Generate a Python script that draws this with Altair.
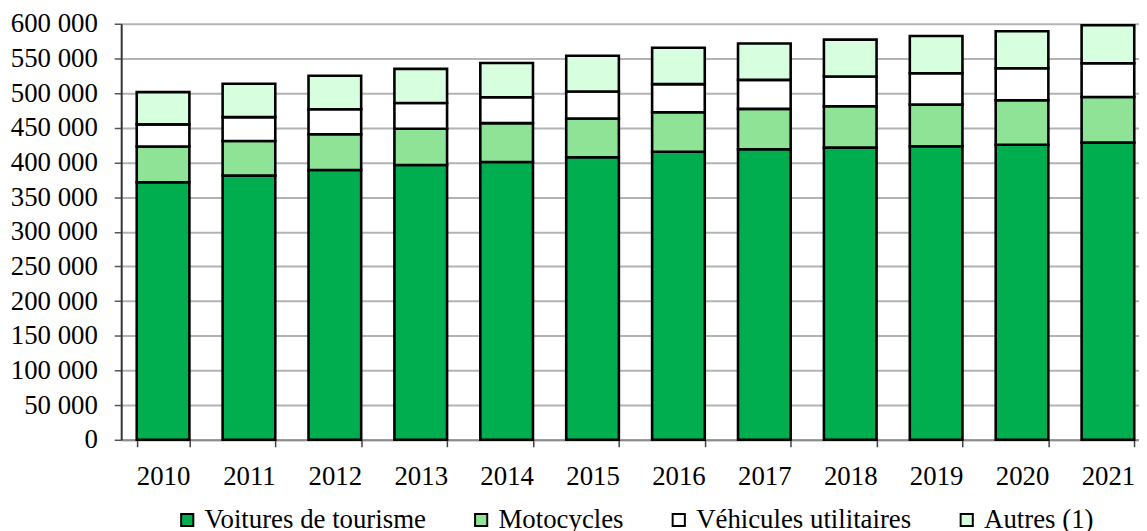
import altair as alt
import pandas as pd

years = ["2010", "2011", "2012", "2013", "2014", "2015", "2016", "2017", "2018", "2019", "2020", "2021"]
voitures = [371400, 381000, 389100, 396300, 400700, 407500, 415300, 419100, 421400, 423400, 425500, 428600]
motocycles = [51500, 50000, 51500, 52300, 56000, 55900, 57100, 58100, 59600, 60000, 64100, 65700]
utilitaires = [32000, 34300, 36100, 37100, 37200, 39000, 40500, 41900, 42900, 45200, 46100, 48600]
autres = [46500, 48100, 48200, 49200, 49500, 51500, 52400, 52300, 53200, 53800, 53400, 54800]

series_names = ["Voitures de tourisme", "Motocycles", "Véhicules utilitaires", "Autres (1)"]
series_colors = ["#00AD4F", "#8EE396", "#FFFFFF", "#D8FEE0"]
series_values = [voitures, motocycles, utilitaires, autres]
y_ticks = list(range(0, 600001, 50000))

rows = []
for si, (name, vals) in enumerate(zip(series_names, series_values)):
    for yr, v in zip(years, vals):
        rows.append({"year": yr, "series": name, "value": v, "order": si})
df = pd.DataFrame(rows)

FONT = "Liberation Serif"
FS = 27

chart = alt.Chart(df).mark_bar(stroke="black", strokeWidth=2.6).encode(
    x=alt.X("year:N", sort=years, title=None,
            scale=alt.Scale(paddingInner=0.387, paddingOuter=0.118, align=0.766),
            axis=alt.Axis(labelAngle=0, tickBand="extent", grid=False,
                          domainColor="#8C8C8C", domainWidth=2,
                          tickColor="#404040", tickWidth=1.5, tickSize=7,
                          labelPadding=17, labelFont=FONT, labelFontSize=FS,
                          labelColor="black")),
    y=alt.Y("value:Q", stack="zero", title=None,
            scale=alt.Scale(domain=[0, 600000], nice=False),
            axis=alt.Axis(values=y_ticks,
                          labelExpr="replace(format(datum.value, ','), ',', ' ')",
                          grid=True, gridColor="#B3B3B3", gridWidth=2,
                          domainColor="#333333", domainWidth=2,
                          tickColor="#555555", tickWidth=1.5, tickSize=7,
                          labelPadding=17, labelFont=FONT, labelFontSize=FS,
                          labelColor="black")),
    color=alt.Color("series:N", sort=series_names,
                    scale=alt.Scale(domain=series_names, range=series_colors),
                    legend=alt.Legend(title=None, orient="none", direction="horizontal",
                                      columns=4, legendX=53, legendY=486,
                                      symbolType="square", symbolSize=150,
                                      symbolStrokeColor="black", symbolStrokeWidth=2,
                                      labelFont=FONT, labelFontSize=FS, labelColor="black",
                                      labelOffset=4, columnPadding=42, padding=0,
                                      labelLimit=400)),
    order=alt.Order("order:Q", sort="ascending"),
).properties(
    width=1025, height=419,
    autosize=alt.AutoSizeParams(type="none"),
    padding={"left": 114, "top": 14, "right": 0, "bottom": 90},
).configure_view(stroke=None)

chart.save("out.html", embed_options={"renderer": "svg", "actions": False})
